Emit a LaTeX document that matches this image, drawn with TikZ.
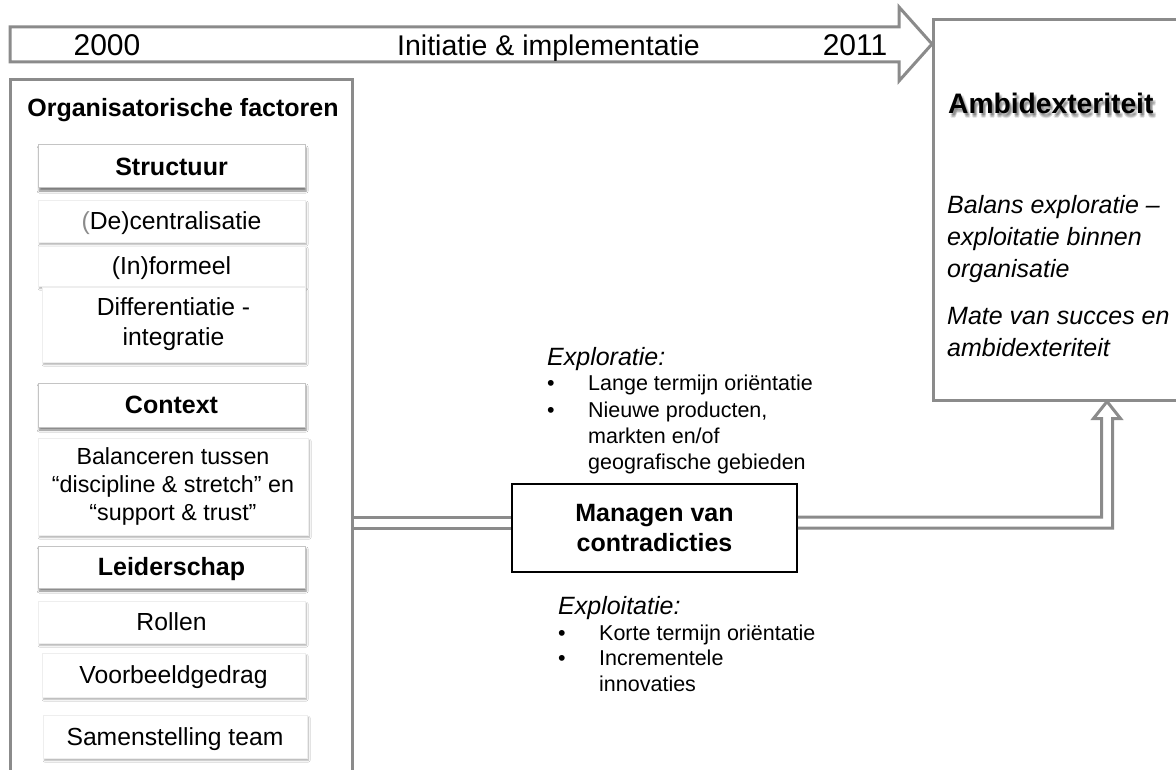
\documentclass[tikz,border=0pt]{standalone}
\usepackage{fontspec}
\setmainfont{Liberation Sans}
\usetikzlibrary{calc,shadows.blur}
\definecolor{framegray}{HTML}{8B8B8B}
\definecolor{edgegray}{HTML}{C4C4C4}
\definecolor{softgray}{HTML}{EEEEEE}

\newcommand{\fsz}[2]{\fontsize{#1}{#2}\selectfont}
\newcommand{\itm}{\makebox[41pt][l]{•}}

\begin{document}
\begin{tikzpicture}[x=1pt,y=-1pt,
  frame/.style={draw=framegray, line width=3pt, fill=white},
  headbox/.style={draw=edgegray, line width=1pt, fill=white, inner sep=0pt,
    minimum width=267pt, minimum height=43pt,
    font=\fsz{25}{30}\bfseries, text height=22.6pt, text depth=5.3pt,
    blur shadow={shadow xshift=1.2pt, shadow yshift=-3pt, shadow blur radius=2pt, shadow opacity=50}},
  itembox/.style={draw=softgray, line width=0.5pt, fill=white, inner sep=0pt, align=center,
    minimum width=267pt, font=\fsz{24.7}{30},
    blur shadow={shadow xshift=1.5pt, shadow yshift=-2.5pt, shadow blur radius=1.5pt, shadow opacity=30}},
  single/.style={text height=22.35pt, text depth=5.24pt},
  listline/.style={anchor=base west, inner sep=0pt, font=\fsz{21.5}{26}},
  listhead/.style={anchor=base west, inner sep=0pt, font=\fsz{25}{30}\itshape},
  titlefont/.style={anchor=west, inner sep=0pt, font=\fsz{28.2}{34}\bfseries},
  dconn/.style={draw=framegray, line width=3pt, double=white, double distance=8pt},
  conn/.style={draw=framegray, line width=3pt, line join=miter}
]
\useasboundingbox (0,0) rectangle (1176,770);
\clip (0,0) rectangle (1176,770);
\fill[white] (0,0) rectangle (1176,770);

% outer frames
\node[frame, minimum width=342pt, minimum height=750pt] (org) at (181,455) {};
\node[frame, minimum width=348pt, minimum height=380pt] (amb) at (1107,210) {};

% time line banner
\draw[frame, line join=miter] (10,27) -- (899,27) -- (899,7) -- (932,44)
  -- (899,81) -- (899,62) -- (10,62) -- cycle;
\node[font=\fsz{30}{36}] (y0) at (107,45) {2000};
\node[anchor=base west, inner sep=0pt, font=\fsz{28.5}{34}] (phase) at (397,55.3) {Initiatie \& implementatie};
\node[font=\fsz{30}{36}] (y1) at (855,45) {2011};

% organisational factors
\node[anchor=base, font=\fsz{25}{30}\bfseries] (orgt) at (183,117) {Organisatorische factoren};

\node[headbox] (st) at (171.5,166.5) {Structuur};
\node[itembox, single, minimum height=42pt] (st1) at (171.5,221) {{\color{framegray}(}De)centralisatie};
\node[itembox, single, minimum height=40pt] (st2) at (171.5,266) {(In)formeel};
\node[itembox, minimum width=263pt, minimum height=75pt] (st3) at (173.5,324.5) {Differentiatie -\\integratie};

\node[headbox, minimum height=44pt] (cx) at (171.5,405) {Context};
\node[itembox, minimum width=270pt, minimum height=97pt, font=\fsz{23.3}{28}] (cx1) at (173,486.5)
  {Balanceren tussen\\“discipline \& stretch” en\\“support \& trust”};

\node[headbox, minimum height=42pt] (ld) at (171.5,567) {Leiderschap};
\node[itembox, single, minimum height=42pt] (ld1) at (171.5,622) {Rollen};
\node[itembox, single, minimum width=263pt, minimum height=44pt] (ld2) at (173.5,675) {Voorbeeldgedrag};
\node[itembox, single, minimum width=264pt, minimum height=43pt] (ld3) at (175,736.5) {Samenstelling team};

% managing contradictions
\node[draw=black, line width=1.8pt, fill=white, minimum width=285pt, minimum height=88pt,
  align=center, font=\fsz{25}{29.5}\bfseries] (mg) at (654.5,528) {Managen van\\contradicties};

\node[listhead] (exh) at (547,365) {Exploratie:};
\node[listline] (ex1) at (547,390.7) {\itm Lange termijn oriëntatie};
\node[listline] (ex2) at (547,417.7) {\itm Nieuwe producten,};
\node[listline] (ex3) at (588,443.7) {markten en/of};
\node[listline] (ex4) at (588,469.7) {geografische gebieden};

\node[listhead] (eth) at (558,614) {Exploitatie:};
\node[listline] (et1) at (558,640.7) {\itm Korte termijn oriëntatie};
\node[listline] (et2) at (558,665.7) {\itm Incrementele};
\node[listline] (et3) at (599,691.7) {innovaties};

% ambidexterity, title with a soft text shadow built from faint offset copies
\foreach \dx/\dy [count=\k] in {1.5/2.5, 3/2.5, 1.5/4, 3/4, 2.2/5.5, 2.2/3.2}
  \node[titlefont, text=black, opacity=0.09] (ambsh\k) at (948+\dx,103+\dy) {Ambidexteriteit};
\node[titlefont] (ambt) at (948,103) {Ambidexteriteit};
\node[anchor=west, inner sep=0pt, align=left, font=\fsz{25}{32}\itshape] (amb1) at (947,239.5)
  {Balans exploratie –\\exploitatie binnen\\organisatie};
\node[anchor=west, inner sep=0pt, align=left, font=\fsz{25}{32}\itshape] (amb2) at (947,332)
  {Mate van succes en\\ambidexteriteit};

% connectors
\coordinate (ml) at ($(mg.west)+(0,-5.5)$);
\draw[dconn] (org.east |- ml) -- (ml);

\coordinate (ra) at ($(mg.east)+(0,-11)$);
\coordinate (tip) at (amb.south);
\coordinate (ta) at (tip |- ra);
\coordinate (tb) at (tip |- mg.east);
\draw[conn] (ra) -- ($(ta)+(-5.5,0)$) -- ($(tip)+(-5.5,17)$) -- ($(tip)+(-13.5,17)$) -- (tip)
  -- ($(tip)+(13.5,17)$) -- ($(tip)+(5.5,17)$) -- ($(tb)+(5.5,0)$) -- (mg.east);
\end{tikzpicture}
\end{document}
